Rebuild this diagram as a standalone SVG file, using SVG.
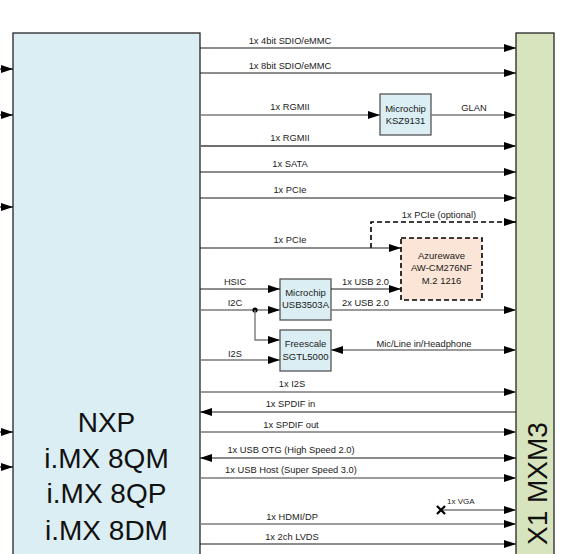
<svg xmlns="http://www.w3.org/2000/svg" width="561" height="554" viewBox="0 0 561 554">
<defs>
<marker id="ah" markerWidth="12" markerHeight="8" refX="12" refY="4" orient="auto-start-reverse" markerUnits="userSpaceOnUse">
<path d="M0,0 L12,4 L0,8 z" fill="#000"/>
</marker>
<style>
.k{stroke:#1a1a1a;stroke-width:1.2;fill:none}
.g{stroke:#7a7a7a;stroke-width:1.4;fill:none}
.gt{stroke:#6e6e6e;stroke-width:2.2;fill:none}
.d{stroke:#000;stroke-width:1.6;fill:none;stroke-dasharray:5,3}
.lb{font-family:"Liberation Sans",Arial,sans-serif;font-size:9.3px;fill:#1a1a1a;text-anchor:middle}
.bx{font-family:"Liberation Sans",Arial,sans-serif;font-size:9.5px;fill:#1a1a1a;text-anchor:middle}
.big{font-family:"Liberation Sans",Arial,sans-serif;font-size:28px;fill:#111;text-anchor:middle}
.chip{fill:#daeef3;stroke:#555;stroke-width:1.3}
</style>
</defs>
<rect width="561" height="554" fill="#fff"/>

<g id="nxp">
<rect x="13" y="33" width="187" height="540" fill="#daeef3" stroke="#262626" stroke-width="1.3"/>
<text class="big" x="106.5" y="432">NXP</text>
<text class="big" x="106.5" y="468">i.MX 8QM</text>
<text class="big" x="106.5" y="503">i.MX 8QP</text>
<text class="big" x="106.5" y="540">i.MX 8DM</text>
</g>

<g id="mxm3">
<rect x="516" y="33" width="38" height="540" fill="#d7e4bd" stroke="#262626" stroke-width="1.3"/>
<text x="0" y="0" transform="translate(547,545) rotate(-90)" font-family="Liberation Sans, Arial, sans-serif" font-size="28" fill="#111">X1 MXM3</text>
</g>

<g id="ksz9131">
<rect class="chip" x="380" y="94" width="51" height="41"/>
<text class="bx" x="405.5" y="112">Microchip</text>
<text class="bx" x="405.5" y="124">KSZ9131</text>
</g>

<g id="usb3503a">
<rect class="chip" x="280" y="279" width="51" height="41"/>
<text class="bx" x="305.5" y="296">Microchip</text>
<text class="bx" x="305.5" y="308">USB3503A</text>
</g>

<g id="sgtl5000">
<rect class="chip" x="280" y="330" width="51" height="41"/>
<text class="bx" x="305.5" y="347">Freescale</text>
<text class="bx" x="305.5" y="360">SGTL5000</text>
</g>

<g id="azurewave">
<rect x="401" y="238" width="81" height="62" fill="#fbe5d6" stroke="#000" stroke-width="1.6" stroke-dasharray="5,3"/>
<text class="bx" x="441.5" y="259">Azurewave</text>
<text class="bx" x="441.5" y="271">AW-CM276NF</text>
<text class="bx" x="441.5" y="284">M.2 1216</text>
</g>

<g id="connectors">
<line class="k" x1="-5" y1="69" x2="13" y2="69" marker-end="url(#ah)"/>
<line class="k" x1="-5" y1="115" x2="13" y2="115" marker-end="url(#ah)"/>
<line class="k" x1="-5" y1="207" x2="13" y2="207" marker-end="url(#ah)"/>
<line class="k" x1="-5" y1="432" x2="13" y2="432" marker-end="url(#ah)"/>
<line class="k" x1="-5" y1="467" x2="13" y2="467" marker-end="url(#ah)"/>

<line class="k" x1="200" y1="48" x2="516" y2="48" marker-end="url(#ah)"/>
<line class="k" x1="200" y1="73" x2="516" y2="73" marker-end="url(#ah)"/>
<line class="g" x1="200" y1="115" x2="380" y2="115" marker-end="url(#ah)"/>
<line class="g" x1="431" y1="115" x2="516" y2="115" marker-end="url(#ah)"/>
<line class="gt" x1="200" y1="146" x2="516" y2="146" marker-end="url(#ah)"/>
<line class="k" x1="200" y1="172" x2="516" y2="172" marker-end="url(#ah)"/>
<line class="k" x1="200" y1="198" x2="516" y2="198" marker-end="url(#ah)"/>
<path class="d" d="M371,248 L371,222 L516,222" marker-end="url(#ah)"/>
<line class="k" x1="200" y1="248" x2="401" y2="248" marker-end="url(#ah)"/>
<line class="k" x1="200" y1="289" x2="280" y2="289" marker-end="url(#ah)"/>
<line class="k" x1="331" y1="289" x2="401" y2="289" marker-end="url(#ah)"/>
<line class="g" x1="200" y1="310" x2="280" y2="310" marker-end="url(#ah)"/>
<circle cx="255" cy="310" r="2.6" fill="#000"/>
<path class="g" d="M255,310 L255,340 L280,340" marker-end="url(#ah)"/>
<line class="g" x1="331" y1="310" x2="516" y2="310" marker-end="url(#ah)"/>
<line class="g" x1="200" y1="360" x2="280" y2="360" marker-end="url(#ah)"/>
<line class="g" x1="331" y1="350" x2="516" y2="350" marker-start="url(#ah)" marker-end="url(#ah)"/>
<line class="g" x1="200" y1="392" x2="516" y2="392" marker-end="url(#ah)"/>
<line class="k" x1="516" y1="412" x2="200" y2="412" marker-end="url(#ah)"/>
<line class="g" x1="200" y1="432" x2="516" y2="432" marker-end="url(#ah)"/>
<line class="k" x1="200" y1="458" x2="516" y2="458" marker-start="url(#ah)" marker-end="url(#ah)"/>
<line class="g" x1="200" y1="478" x2="516" y2="478" marker-end="url(#ah)"/>
<line class="g" x1="441" y1="510" x2="516" y2="510" marker-end="url(#ah)"/>
<path d="M437,506 L445,514 M445,506 L437,514" stroke="#000" stroke-width="2.2"/>
<line class="g" x1="200" y1="524" x2="516" y2="524" marker-end="url(#ah)"/>
<line class="k" x1="200" y1="544" x2="516" y2="544" marker-end="url(#ah)"/>
</g>

<g id="labels">
<text class="lb" x="290" y="44">1x 4bit SDIO/eMMC</text>
<text class="lb" x="290" y="69">1x 8bit SDIO/eMMC</text>
<text class="lb" x="290" y="110">1x RGMII</text>
<text class="lb" x="474" y="111">GLAN</text>
<text class="lb" x="290" y="141">1x RGMII</text>
<text class="lb" x="290" y="167">1x SATA</text>
<text class="lb" x="290" y="193">1x PCIe</text>
<text class="lb" x="439" y="218">1x PCIe (optional)</text>
<text class="lb" x="290" y="243">1x PCIe</text>
<text class="lb" x="235" y="285">HSIC</text>
<text class="lb" x="235" y="306">I2C</text>
<text class="lb" x="365.5" y="285">1x USB 2.0</text>
<text class="lb" x="365.5" y="306">2x USB 2.0</text>
<text class="lb" x="235" y="357">I2S</text>
<text class="lb" x="424" y="347">Mic/Line in/Headphone</text>
<text class="lb" x="292" y="387">1x I2S</text>
<text class="lb" x="290.5" y="407">1x SPDIF in</text>
<text class="lb" x="291" y="428">1x SPDIF out</text>
<text class="lb" x="291" y="453">1x USB OTG (High Speed 2.0)</text>
<text class="lb" x="291" y="473">1x USB Host (Super Speed 3.0)</text>
<text class="lb" x="447" y="504" style="text-anchor:start;font-size:8px">1x VGA</text>
<text class="lb" x="292" y="520">1x HDMI/DP</text>
<text class="lb" x="292" y="540">1x 2ch LVDS</text>
</g>
</svg>
